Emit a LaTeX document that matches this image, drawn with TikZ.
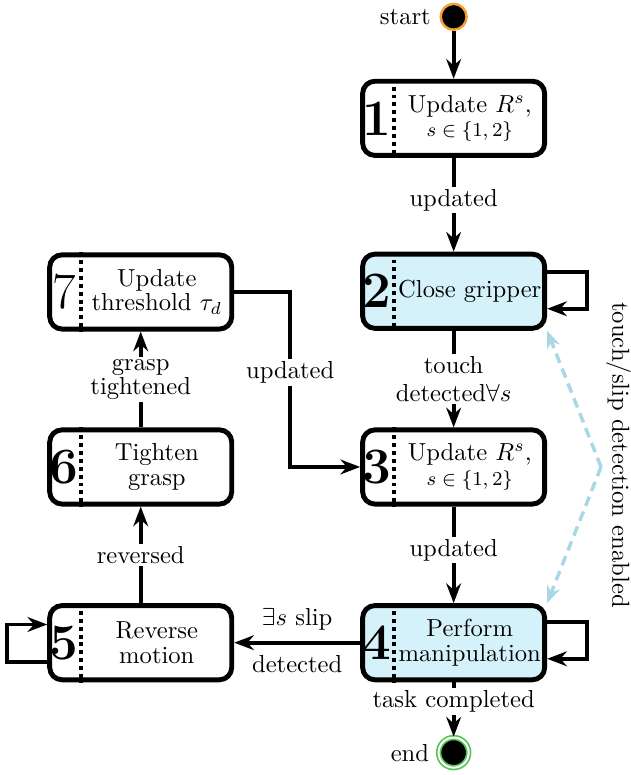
\documentclass[tikz,border=0pt]{standalone}
\usepackage{amsmath,amssymb}
\usetikzlibrary{arrows.meta,calc,positioning}
\definecolor{statecyan}{HTML}{D5F2FB}
\definecolor{startorange}{HTML}{F5A030}
\definecolor{endgreen}{HTML}{5CC25C}
\definecolor{enablecyan}{HTML}{A8D8E6}

\begin{document}
\begin{tikzpicture}[font=\fontsize{10pt}{10pt}\selectfont,
  state/.style={draw, line width=2pt, rounded corners=5pt, minimum width=2.60cm, minimum height=1.06cm, inner sep=0pt},
  active/.style={state, fill=statecyan},
  num/.style={font=\huge\bfseries, inner sep=0pt},
  txt/.style={align=center, inner sep=0pt},
  sep/.style={line width=1.6pt, dash pattern=on 1.6pt off 1.6pt},
  flow/.style={line width=1.6pt, -{Stealth[length=8pt,width=6pt]}},
  lab/.style={fill=white, align=center, inner sep=1pt},
  enable/.style={enablecyan, line width=1.4pt, dash pattern=on 4pt off 2.5pt, -{Stealth[length=7pt,width=5.5pt]}}]

\useasboundingbox (0,0) rectangle (9.01,-11.07);

% right column
\node[state] (s1) at (6.48,-1.69) {};
\node[active] (s2) at (6.48,-4.16) {};
\node[state] (s3) at (6.48,-6.67) {};
\node[active] (s4) at (6.48,-9.18) {};
% left column
\node[state] (s5) at (2.01,-9.18) {};
\node[state] (s6) at (2.01,-6.67) {};
\node[state] (s7) at (2.01,-4.17) {};

\node[circle, fill=black, draw=startorange, line width=1pt, minimum size=0.37cm, inner sep=0pt,
  label={[name=startlab]left:start}] (start) at (6.48,-0.24) {};
\node[circle, fill=black, draw=endgreen, double=white, line width=0.7pt, double distance=0.8pt,
  minimum size=0.43cm, inner sep=0pt, label={[name=endlab]left:end}] (end) at (6.48,-10.75) {};

% numbers and dotted separators
\foreach \i in {1,...,6}
  \node[num] (n\i) at ([xshift=0.24cm]s\i.west) {\i};
\node[num, font=\huge] (n7) at ([xshift=0.24cm]s7.west) {7};
\foreach \i in {1,...,7}
  \draw[sep] ([xshift=0.48cm]s\i.north west) -- ([xshift=0.48cm]s\i.south west);

% state texts
\node[txt] (t1) at ([xshift=0.23cm]s1.center) {Update $R^s$,\\{\footnotesize $s\in\{1,2\}$}};
\node[txt] (t2) at ([xshift=0.23cm]s2.center) {Close gripper};
\node[txt] (t3) at ([xshift=0.23cm]s3.center) {Update $R^s$,\\{\footnotesize $s\in\{1,2\}$}};
\node[txt] (t4) at ([xshift=0.23cm]s4.center) {Perform\\manipulation};
\node[txt] (t5) at ([xshift=0.23cm]s5.center) {Reverse\\motion};
\node[txt] (t6) at ([xshift=0.23cm]s6.center) {Tighten\\grasp};
\node[txt] (t7) at ([xshift=0.23cm]s7.center) {Update\\threshold $\tau_d$};

% transitions
\draw[flow] (start) -- (s1);
\draw[flow] (s1) -- node[lab, pos=0.45] (l12) {updated} (s2);
\draw[flow] (s2) -- node[lab] (l23) {touch\\[1pt]detected$\forall s$} (s3);
\draw[flow] (s3) -- node[lab, pos=0.45] (l34) {updated} (s4);
\draw[flow] (s4) -- node[lab, pos=0.35] (l4e) {task completed} (end);
\draw[flow] (s4) -- node[above=1pt] (l45a) {$\exists s$ slip} node[below=1pt] (l45b) {detected} (s5);
\draw[flow] (s5) -- node[lab] (l56) {reversed} (s6);
\draw[flow] (s6) -- node[lab] (l67) {grasp\\tightened} (s7);
\draw[flow] (s7.east) -- ++(0.80,0) |- node[lab, pos=0.23] (l73) {updated} (s3.west);

% self loops
\draw[flow] ([yshift=0.27cm]s2.east) -- ++(0.57,0) |- ([yshift=-0.25cm]s2.east);
\draw[flow] ([yshift=0.30cm]s4.east) -- ++(0.57,0) |- ([yshift=-0.23cm]s4.east);
\draw[flow] ([yshift=-0.27cm]s5.west) -- ++(-0.57,0) |- ([yshift=0.26cm]s5.west);

% detection enabled
\coordinate[right=0.77cm of s3.east] (en);
\draw[enable] (en) -- (s2.south east);
\draw[enable] (en) -- (s4.north east);
\node[rotate=-90] (enlab) at ($(en)+(0.25,0.17)$) {touch/slip detection enabled};
\end{tikzpicture}
\end{document}
